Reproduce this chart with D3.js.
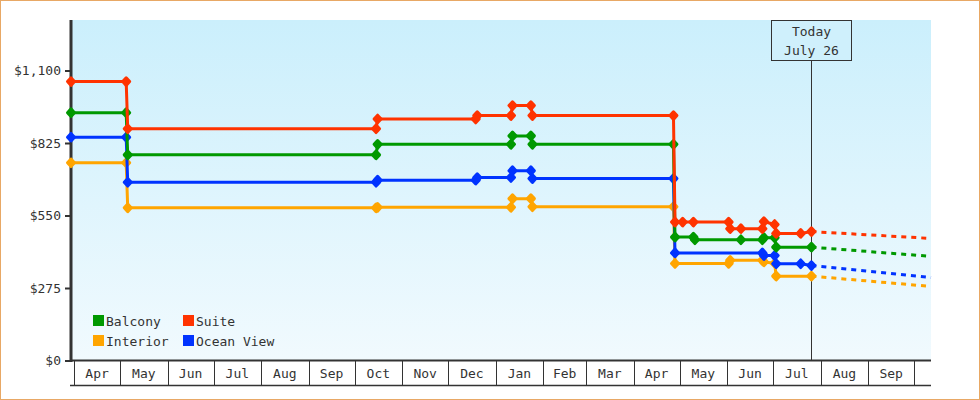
<!DOCTYPE html>
<html><head><meta charset="utf-8">
<script src="https://cdn.jsdelivr.net/npm/d3@7"></script>
<style>
html,body{margin:0;padding:0;background:#fff;}
svg{display:block;}
text{font-family:"DejaVu Sans Mono",monospace;font-size:13px;fill:#333;}
</style></head><body><svg id="chart" width="980" height="400"></svg>
<script>
// ---- data ----
const categories = ["Balcony", "Suite", "Interior", "Ocean View"];
const balcony = [
  ["2018-03-30",940],["2018-05-05",940],["2018-05-06",780],["2018-10-15",780],["2018-10-16",820],
  ["2019-01-11",820],["2019-01-12",852],["2019-01-24",852],["2019-01-25",820],["2019-04-27",820],
  ["2019-04-28",468],["2019-05-10",468],["2019-05-11",458],["2019-06-10",458],["2019-06-24",458],
  ["2019-06-25",466],["2019-07-02",466],["2019-07-03",430],["2019-07-26",430]
];
const suite = [
  ["2018-03-30",1058],["2018-05-05",1058],["2018-05-06",879],["2018-10-15",879],["2018-10-16",916],
  ["2018-12-19",916],["2018-12-20",929],["2019-01-11",929],["2019-01-12",967],["2019-01-24",967],
  ["2019-01-25",929],["2019-04-27",929],["2019-04-28",525],["2019-05-03",525],["2019-05-10",525],
  ["2019-06-02",525],["2019-06-03",500],["2019-06-10",500],["2019-06-24",500],["2019-06-25",527],
  ["2019-07-02",516],["2019-07-03",482],["2019-07-19",482],["2019-07-26",489]
];
const interior = [
  ["2018-03-30",750],["2018-05-05",750],["2018-05-06",579],["2018-10-15",579],["2018-10-16",581],
  ["2019-01-11",581],["2019-01-12",614],["2019-01-24",614],["2019-01-25",583],["2019-04-27",583],
  ["2019-04-28",368],["2019-06-02",368],["2019-06-03",380],["2019-06-24",380],["2019-06-25",374],
  ["2019-07-02",369],["2019-07-03",320],["2019-07-26",320]
];
const oceanView = [
  ["2018-03-30",847],["2018-05-05",847],["2018-05-06",676],["2018-10-15",676],["2018-10-16",684],
  ["2018-12-19",684],["2018-12-20",694],["2019-01-11",694],["2019-01-12",720],["2019-01-24",720],
  ["2019-01-25",690],["2019-04-27",690],["2019-04-28",408],["2019-06-24",408],["2019-06-25",398],
  ["2019-07-02",398],["2019-07-03",367],["2019-07-19",367],["2019-07-26",360]
];
const projectionEndDate = "2019-10-12";
const projectionEnd = [395, 463, 281, 315];   // same order as categories
const todayDate = "2019-07-26";
const todayLabel = ["Today", "July 26"];
const monthLabels = ["Apr","May","Jun","Jul","Aug","Sep","Oct","Nov","Dec","Jan","Feb","Mar","Apr","May","Jun","Jul","Aug","Sep"];
const yTicks = [0, 275, 550, 825, 1100];

// ---- styles ----
const colorOf = {"Balcony":"#009900","Suite":"#ff3300","Interior":"#ffa500","Ocean View":"#0033ff"};
const drawOrder = ["Interior","Ocean View","Balcony","Suite"];

(function(){
const parse = d3.utcParse("%Y-%m-%d");
const seriesData = {
  "Balcony": balcony, "Suite": suite, "Interior": interior, "Ocean View": oceanView
};

const svg = d3.select("#chart");
const W = 980, H = 400;
const pL = 71, pR = 931, pT = 20, pB = 360;

const x = d3.scaleUtc().domain([parse("2018-03-30"), parse(projectionEndDate)]).range([pL, pR]);
const y = d3.scaleLinear().domain([0, 1100]).range([360.5, 70.5]);

// border
svg.append("rect").attr("x",0.5).attr("y",0.5).attr("width",W-1).attr("height",H-1)
  .attr("fill","#fff").attr("stroke","#e8a865");

// background gradient
const defs = svg.append("defs");
const g = defs.append("linearGradient").attr("id","bg").attr("x1",0).attr("y1",0).attr("x2",0).attr("y2",1);
g.append("stop").attr("offset","0%").attr("stop-color","#cbeffc");
g.append("stop").attr("offset","100%").attr("stop-color","#f1fafe");
svg.append("rect").attr("x",pL).attr("y",pT).attr("width",pR-pL).attr("height",pB-pT)
  .attr("fill","url(#bg)");

// x axis month boxes
const monthStarts = d3.utcMonth.range(parse("2018-04-01"), d3.utcDay.offset(parse("2019-10-01"),1));
const xa = svg.append("g");
xa.append("line").attr("x1",pL-1).attr("x2",pR).attr("y1",360.5).attr("y2",360.5)
  .attr("stroke","#333").attr("stroke-width",2);
xa.append("line").attr("x1",pL-1).attr("x2",pR).attr("y1",385.5).attr("y2",385.5)
  .attr("stroke","#333").attr("stroke-width",1.5);
xa.selectAll("line.sep").data(monthStarts).join("line").attr("class","sep")
  .attr("x1",d=>Math.round(x(d))+0.5).attr("x2",d=>Math.round(x(d))+0.5)
  .attr("y1",360).attr("y2",385).attr("stroke","#333").attr("stroke-width",1);
xa.selectAll("text").data(monthLabels).join("text")
  .attr("x",(d,i)=>(x(monthStarts[i])+x(monthStarts[i+1]))/2)
  .attr("y",378).attr("text-anchor","middle").text(d=>d);

// y axis
const yAxis = d3.axisLeft(y).tickValues(yTicks).tickSize(5).tickPadding(4)
  .tickFormat(d => "$" + d3.format(",")(d));
const ya = svg.append("g").attr("transform",`translate(${pL-1},0)`).call(yAxis);
ya.select(".domain").remove();
ya.selectAll(".tick line").attr("stroke","#333").attr("stroke-width",2);
ya.selectAll(".tick text").attr("fill","#333").attr("font-size",13)
  .attr("font-family","DejaVu Sans Mono, monospace");
svg.append("line").attr("x1",pL).attr("x2",pL).attr("y1",pT).attr("y2",362)
  .attr("stroke","#333").attr("stroke-width",3);

// today line + box
const tx = Math.round(x(parse(todayDate))) + 0.5;
svg.append("line").attr("x1",tx).attr("x2",tx).attr("y1",60).attr("y2",360)
  .attr("stroke","#333").attr("stroke-width",1);
svg.append("rect").attr("x",tx-40).attr("y",20.5).attr("width",80).attr("height",40)
  .attr("fill","#cff0fc").attr("stroke","#333").attr("stroke-width",1);
svg.append("text").attr("x",tx).attr("y",36).attr("text-anchor","middle").text(todayLabel[0]);
svg.append("text").attr("x",tx).attr("y",55).attr("text-anchor","middle").text(todayLabel[1]);

// series
const line = d3.line().x(d => x(parse(d[0]))).y(d => y(d[1]));
const diamond = "M0,-3.8L3.5,0L0,3.8L-3.5,0Z";
drawOrder.forEach(name => {
  const data = seriesData[name];
  const c = colorOf[name];
  const last = data[data.length-1];
  const pi = categories.indexOf(name);
  svg.append("path").datum([last, [projectionEndDate, projectionEnd[pi]]])
    .attr("d", line).attr("fill","none").attr("stroke",c).attr("stroke-width",3)
    .attr("stroke-dasharray","5,5");
  svg.append("path").datum(data).attr("d", line).attr("fill","none")
    .attr("stroke",c).attr("stroke-width",3).attr("stroke-linejoin","round");
  svg.append("g").selectAll("path").data(data).join("path")
    .attr("transform", d => `translate(${x(parse(d[0]))},${y(d[1])})`)
    .attr("d", diamond).attr("fill",c).attr("stroke",c)
    .attr("stroke-width",3).attr("stroke-linejoin","round");
});

// legend
const legendPos = [[93,315],[183,315],[93,335],[183,335]];
const lg = svg.append("g");
categories.forEach((name,i) => {
  const [lx, ly] = legendPos[i];
  lg.append("rect").attr("x",lx).attr("y",ly).attr("width",11).attr("height",11).attr("fill",colorOf[name]);
  lg.append("text").attr("x",lx+13).attr("y",ly+10.5).text(name);
});
})();
</script></body></html>
